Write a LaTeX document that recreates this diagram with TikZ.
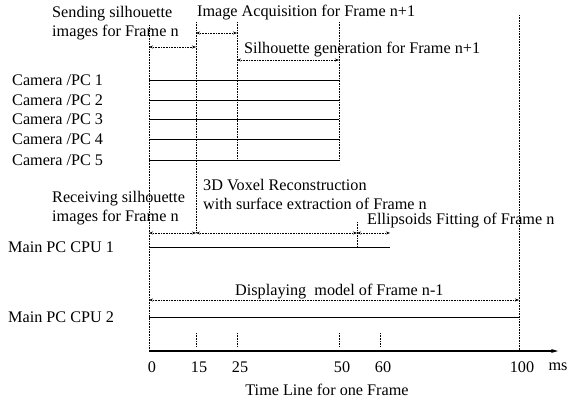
\documentclass[tikz,border=0pt]{standalone}
\usepackage{fontspec}
\setmainfont{Liberation Serif}
\usetikzlibrary{arrows.meta}

\begin{document}
\begin{tikzpicture}[x=1pt,y=-1pt,
		lbl/.style={font=\fontsize{16.2}{19}\selectfont, inner sep=0pt},
		txt/.style={lbl, anchor=west, align=left},
		guide/.style={densely dotted, line width=0.6pt},
		busy/.style={line width=0.9pt},
		span/.style={densely dotted, line width=0.6pt,
			{Stealth[length=4pt,width=3pt]}-{Stealth[length=4pt,width=3pt]}},
		axis/.style={line width=1.1pt, -{Stealth[length=7pt,width=4pt]}}
		]
		\useasboundingbox (0,0) rectangle (570,402);
		% time points on the axis
		\foreach \n/\x in {0/149,15/196,25/237,50/339,55/357,60/380,62/390,100/519}
			\coordinate (t\n) at (\x,351);
		\coordinate (tend) at (558,351);

		% guide lines
		\draw[guide] (t0 |- 0,25) -- (t0);
		\draw[guide] (t15 |- 0,22) -- (t15 |- 0,233);
		\draw[guide] (t25 |- 0,22) -- (t25 |- 0,160);
		\draw[guide] (t50 |- 0,22) -- (t50 |- 0,160);
		\draw[guide] (t55 |- 0,222) -- (t55 |- 0,247);
		\draw[guide] (t100 |- 0,15) -- (t100);
		\foreach \n in {15,25,50,60}
			\draw[guide] (t\n) ++(0,-18) -- ++(0,14);

		% camera PCs
		\foreach \i/\y in {1/80,2/100,3/119,4/139,5/160} {
			\node[txt] (cam\i) at (12,\y) {Camera /PC \i};
			\draw[busy] (t0 |- cam\i) -- (t50 |- cam\i);
		}
		\node[txt] (send) at (52,23) {Sending silhouette\\images for Frame n};
		\node[txt] (acq) at (197,13) {Image Acquisition for Frame n+1};
		\node[txt] (silgen) at (244,50) {Silhouette generation for Frame n+1};
		\draw[span] (t0 |- 0,47) -- (t15 |- 0,47);
		\draw[span] (t15 |- 0,33) -- (t25 |- 0,33);
		\draw[span] (t25 |- 0,60) -- (t50 |- 0,60);

		% main PC
		\node[txt] (cpu1) at (8,247) {Main PC CPU 1};
		\node[txt] (cpu2) at (8,317) {Main PC CPU 2};
		\draw[busy] (t0 |- cpu1) -- (t62 |- cpu1);
		\draw[busy] (t0 |- cpu2) -- (t100 |- cpu2);
		\node[txt] (recv) at (52,208) {Receiving silhouette\\images for Frame n};
		\node[txt] (voxel) at (203,194) {3D Voxel Reconstruction\\with surface extraction of Frame n};
		\node[txt] (ellip) at (367,221) {Ellipsoids Fitting of Frame n};
		\node[txt] (disp) at (235,292) {Displaying~~model of Frame n-1};
		\draw[span] (t0 |- 0,233) -- (t15 |- 0,233);
		\draw[span] (t15 |- 0,233) -- (t55 |- 0,233);
		\draw[span] (t55 |- 0,233) -- (t62 |- 0,233);
		\draw[span] (t0 |- 0,300) -- (t100 |- 0,300);

		% time line
		\draw[axis] (t0) -- (tend);
		\foreach \n in {0,15,25,50,60,100}
			\node[lbl] (l\n) at ([xshift=3pt]t\n |- 0,367) {\n};
		\node[lbl] (ms) at (tend |- 0,367) {ms};
		\node[lbl] (title) at (327,390) {Time Line for one Frame};
\end{tikzpicture}
\end{document}
